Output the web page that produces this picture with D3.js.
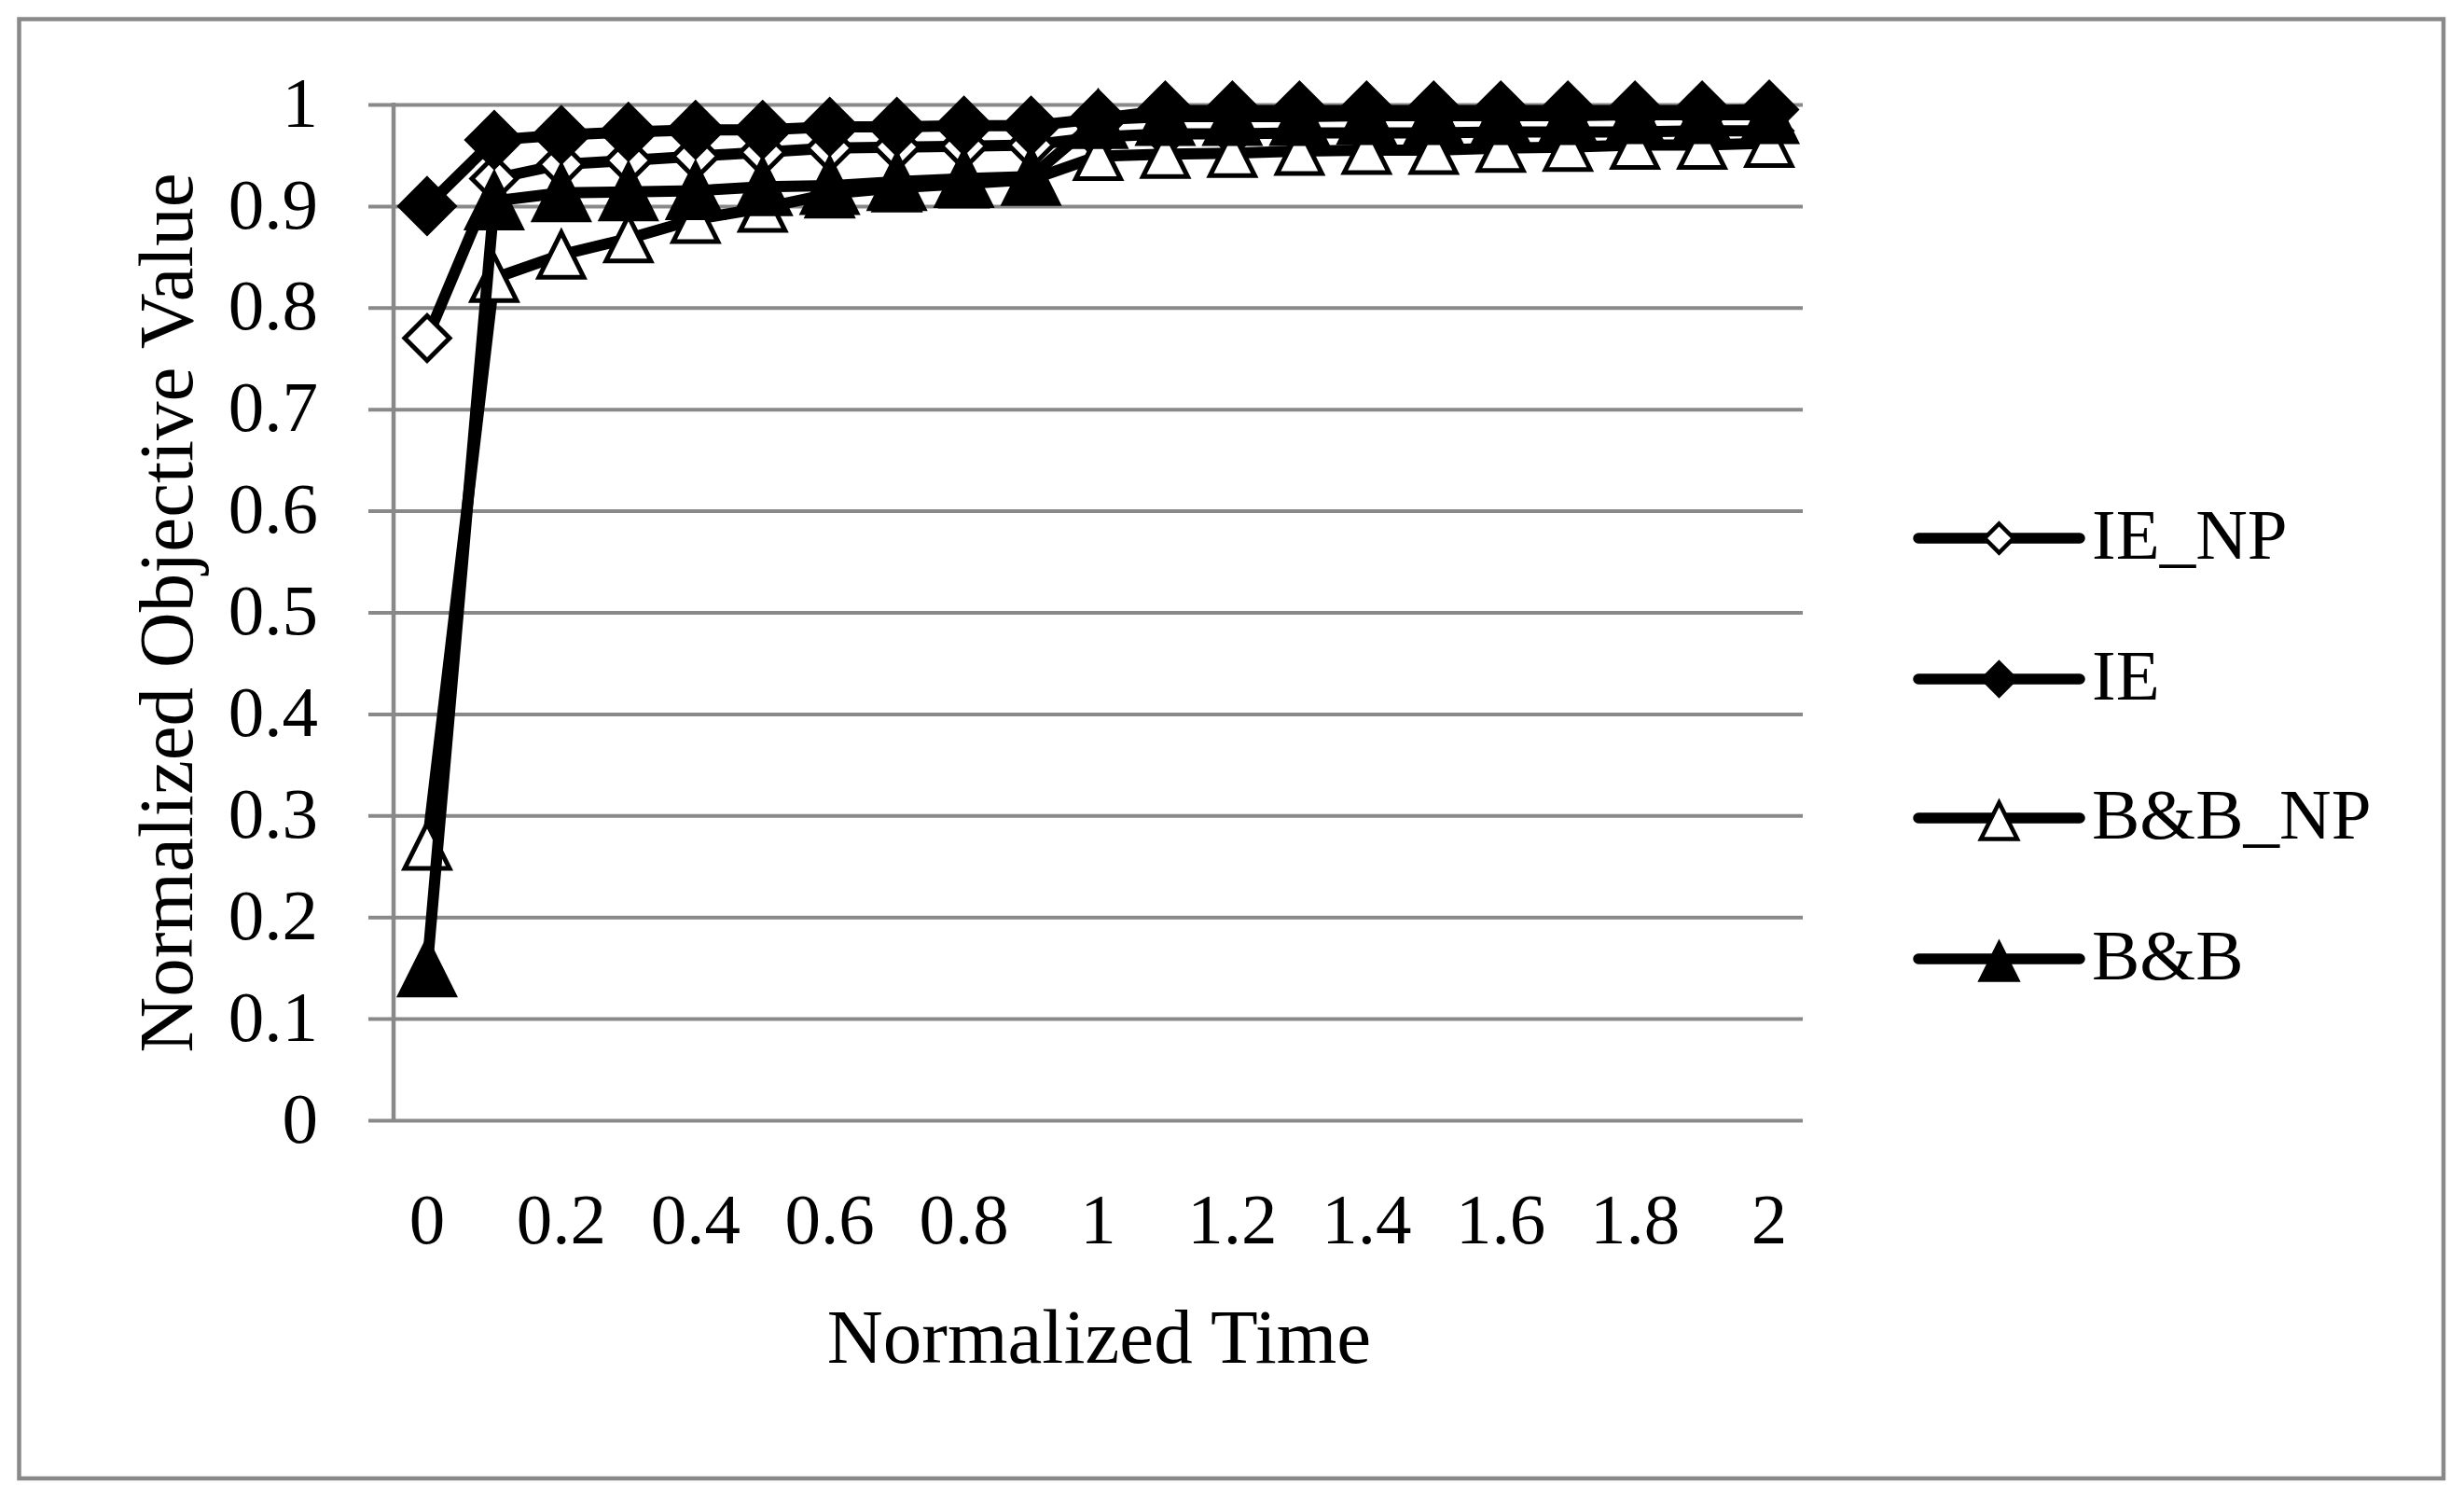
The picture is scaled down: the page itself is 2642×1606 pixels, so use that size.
<!DOCTYPE html>
<html>
<head>
<meta charset="utf-8">
<script src="https://cdn.jsdelivr.net/npm/d3@7"></script>
<style>
  html, body { margin: 0; padding: 0; background: #fff; }
  svg { display: block; }
  text { font-family: "Liberation Serif", "Times New Roman", serif; fill: #000; }
</style>
</head>
<body>
<svg id="chart" width="2642" height="1606"></svg>
<script>
// ---- data ----
const categories = ["0","0.1","0.2","0.3","0.4","0.5","0.6","0.7","0.8","0.9","1",
                    "1.1","1.2","1.3","1.4","1.5","1.6","1.7","1.8","1.9","2"];
const xTickLabels = ["0","0.2","0.4","0.6","0.8","1","1.2","1.4","1.6","1.8","2"];
const yTicks = [0,0.1,0.2,0.3,0.4,0.5,0.6,0.7,0.8,0.9,1];
const yTickLabels = ["0","0.1","0.2","0.3","0.4","0.5","0.6","0.7","0.8","0.9","1"];
const seriesNames = ["IE_NP","IE","B&B_NP","B&B"];
const ieNP  = [0.77,0.927,0.941,0.945,0.949,0.953,0.957,0.958,0.959,0.960,0.968,0.971,0.971,0.972,0.972,0.972,0.973,0.973,0.973,0.974,0.974];
const ie    = [0.90,0.965,0.970,0.973,0.975,0.975,0.978,0.978,0.979,0.979,0.986,0.994,0.994,0.994,0.994,0.994,0.994,0.994,0.994,0.994,0.995];
const bbNP  = [0.27,0.829,0.852,0.868,0.887,0.898,0.912,0.918,0.922,0.926,0.949,0.951,0.952,0.954,0.955,0.955,0.957,0.958,0.960,0.960,0.962];
const bb    = [0.15,0.905,0.913,0.914,0.915,0.919,0.920,0.924,0.927,0.929,0.985,0.988,0.988,0.988,0.989,0.989,0.989,0.989,0.990,0.990,0.990];
const seriesValues = [ieNP, ie, bbNP, bb];
const seriesMarker = ["diamond","diamond","triangle","triangle"];
const seriesFilled = [false, true, false, true];

// ---- layout ----
const svg = d3.select("#chart");
const FONT = 77;
const TITLE_FONT = 83;
const GRID = "#898989";
const plotL = 422, plotR = 1933, plotT = 112, plotB = 1201;

svg.append("rect").attr("x",20.5).attr("y",20.5).attr("width",2599.5).attr("height",1564.5)
  .attr("fill","none").attr("stroke",GRID).attr("stroke-width",4.5);

const x = d3.scaleBand().domain(categories).range([plotL, plotR]).paddingInner(0).paddingOuter(0);
const cx = c => x(c) + x.bandwidth()/2;
const y = d3.scaleLinear().domain([0,1]).range([plotB, plotT]);

// gridlines + y labels
const yAxis = d3.axisLeft(y).tickValues(yTicks)
  .tickFormat((d,i) => yTickLabels[i])
  .tickSize(plotR - 395).tickPadding(54);
const gy = svg.append("g").attr("transform", `translate(${plotR},0)`).call(yAxis);
gy.select(".domain").remove();
gy.selectAll(".tick line").attr("stroke", GRID).attr("stroke-width", 4);
gy.selectAll(".tick text").attr("font-size", FONT).attr("font-family","Liberation Serif").attr("fill","#000").attr("dy","0.3em");

// y axis line
svg.append("line").attr("x1",plotL).attr("x2",plotL).attr("y1",plotT-2).attr("y2",plotB)
  .attr("stroke",GRID).attr("stroke-width",4.5);

// x labels
const xAxis = d3.axisBottom(x).tickValues(categories.filter((c,i)=> i%2===0))
  .tickFormat(c => xTickLabels[categories.indexOf(c)/2])
  .tickSize(0).tickPadding(77);
const gx = svg.append("g").attr("transform", `translate(0,${plotB})`).call(xAxis);
gx.select(".domain").remove();
gx.selectAll(".tick text").attr("font-size", FONT).attr("font-family","Liberation Serif").attr("fill","#000");

// axis titles
svg.append("text").attr("x", (plotL+plotR)/2 + 1).attr("y", 1461)
  .attr("text-anchor","middle").attr("font-size", TITLE_FONT).text("Normalized Time");
svg.append("text").attr("transform", "translate(206,657) rotate(-90)")
  .attr("text-anchor","middle").attr("font-size", TITLE_FONT).text("Normalized Objective Value");

// marker path generator
function markerPath(type, r) {
  if (type === "diamond") return `M0,${-r}L${r},0L0,${r}L${-r},0Z`;
  return `M0,${-r}L${r},${r}L${-r},${r}Z`;
}

const line = d3.line().x((d,i)=>cx(categories[i])).y(d=>y(d));

seriesValues.forEach((vals, si) => {
  const g = svg.append("g");
  g.append("path").attr("d", line(vals)).attr("fill","none").attr("stroke","#000")
    .attr("stroke-width",12).attr("stroke-linejoin","round").attr("stroke-linecap","round");
  const filled = seriesFilled[si];
  const r = filled ? 29 : 24;
  g.selectAll("path.m").data(vals).enter().append("path").attr("class","m")
    .attr("transform",(d,i)=>`translate(${cx(categories[i])},${y(d)})`)
    .attr("d", markerPath(seriesMarker[si], r))
    .attr("fill", filled ? "#000" : "#fff").attr("stroke","#000")
    .attr("stroke-width",5).attr("stroke-linejoin","miter");
});

// legend
const legX1 = 2057, legX2 = 2230, legMX = 2143.5, legTX = 2243;
const legRows = [577, 728, 877, 1028];
seriesNames.forEach((name, si) => {
  const ly = legRows[si];
  const g = svg.append("g");
  g.append("line").attr("x1",legX1).attr("x2",legX2).attr("y1",ly).attr("y2",ly)
    .attr("stroke","#000").attr("stroke-width",11.5).attr("stroke-linecap","round");
  const filled = seriesFilled[si];
  const isTri = seriesMarker[si] === "triangle";
  const r = isTri ? 19.5 : (filled ? 17.5 : 15.5);
  g.append("path").attr("transform",`translate(${legMX},${isTri ? ly+3 : ly})`)
    .attr("d", markerPath(seriesMarker[si], r))
    .attr("fill", filled ? "#000" : "#fff").attr("stroke","#000").attr("stroke-width",4.5);
  g.append("text").attr("x",legTX).attr("y",ly+22).attr("font-size",FONT).text(name);
});
</script>
</body>
</html>
